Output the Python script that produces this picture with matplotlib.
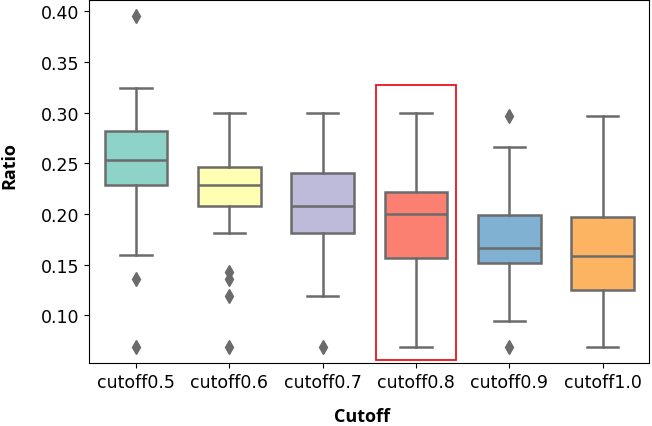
import matplotlib
matplotlib.use("Agg")
import matplotlib.pyplot as plt
from matplotlib.patches import Rectangle

labels = ["cutoff0.5", "cutoff0.6", "cutoff0.7", "cutoff0.8", "cutoff0.9", "cutoff1.0"]
colors = ["#8dd3c7", "#ffffb3", "#bebada", "#fb8072", "#80b1d3", "#fdb462"]

whislo = [0.160, 0.1815, 0.119, 0.0684, 0.0947, 0.0684]
q1 = [0.2283, 0.2082, 0.1815, 0.1562, 0.1519, 0.1253]
med = [0.2533, 0.2283, 0.2082, 0.200, 0.1661, 0.1588]
q3 = [0.2819, 0.2463, 0.2404, 0.222, 0.1993, 0.1967]
whishi = [0.324, 0.300, 0.300, 0.300, 0.2664, 0.297]
fliers = [
    [0.395, 0.1358, 0.0684],
    [0.143, 0.1358, 0.1193, 0.0684],
    [0.0684],
    [],
    [0.297, 0.0684],
    [],
]

# highlighted group
highlight = 3

stats = []
for i in range(len(labels)):
    stats.append(dict(label=labels[i], whislo=whislo[i], q1=q1[i], med=med[i],
                      q3=q3[i], whishi=whishi[i], fliers=fliers[i]))

gray = "#6b6b6b"
lw = 1.8

fig = plt.figure(figsize=(6.52, 4.27), dpi=100)
ax = fig.add_axes([0.137, 0.147, 0.859, 0.851])

bp = ax.bxp(stats, positions=range(len(labels)), widths=0.67, patch_artist=True,
            boxprops=dict(edgecolor=gray, linewidth=lw),
            medianprops=dict(color=gray, linewidth=lw),
            whiskerprops=dict(color=gray, linewidth=lw),
            capprops=dict(color=gray, linewidth=lw),
            flierprops=dict(marker="d", markerfacecolor=gray, markeredgecolor=gray,
                            markersize=7.5))
for patch, c in zip(bp["boxes"], colors):
    patch.set_facecolor(c)

ax.set_xlim(-0.5, len(labels) - 0.5)
ax.set_ylim(0.0527, 0.4113)
ax.set_yticks([0.10, 0.15, 0.20, 0.25, 0.30, 0.35, 0.40])
ax.set_yticklabels(["%.2f" % t for t in ax.get_yticks()])
ax.tick_params(labelsize=12.5)

ax.add_patch(Rectangle((highlight - 0.43, 0.0562), 0.86, 0.3276 - 0.0562,
                       fill=False, edgecolor="#e8141c", linewidth=1.3, zorder=5))

ax.set_xlabel("Cutoff", fontsize=13, fontweight="bold", family="Open Sans")
ax.set_ylabel("Ratio", fontsize=13, fontweight="bold", family="Open Sans")
ax.xaxis.set_label_coords(0.487, -0.145)
ax.xaxis.label.set_va("center")
ax.yaxis.set_label_coords(-0.143, 0.547)
ax.yaxis.label.set_va("center")

plt.savefig("out.png", dpi=100)
